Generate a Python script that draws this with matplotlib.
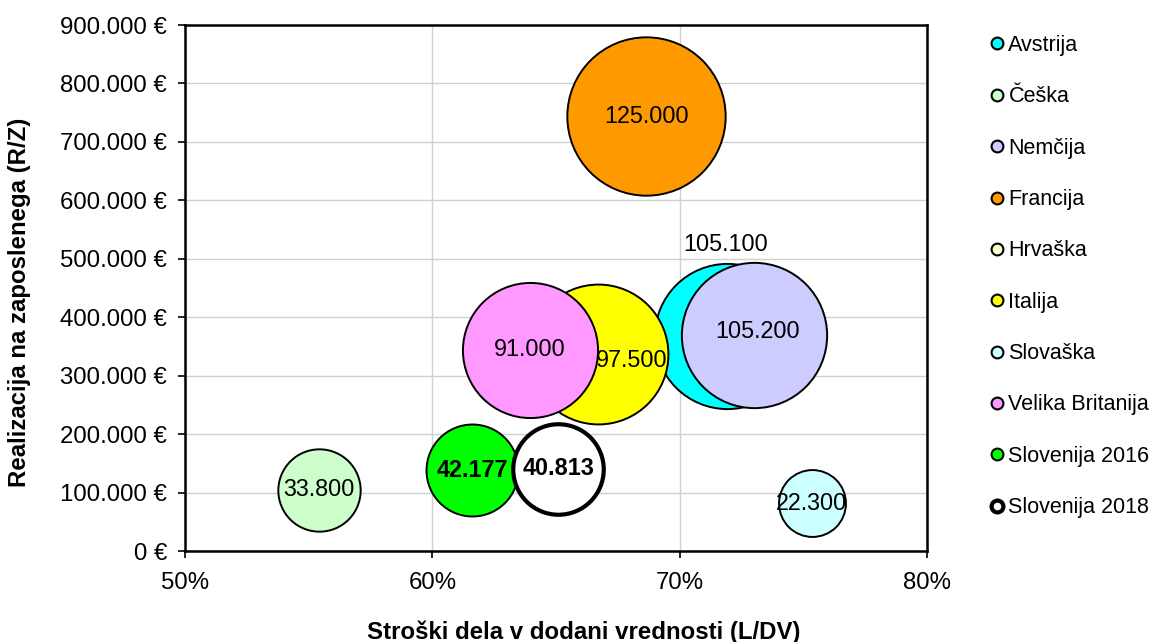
import numpy as np
import matplotlib.pyplot as plt
from matplotlib.lines import Line2D
from matplotlib.ticker import FuncFormatter, MultipleLocator

plt.rcParams['font.family'] = ['Liberation Sans', 'DejaVu Sans']

countries = ['Avstrija', 'Češka', 'Nemčija', 'Francija', 'Hrvaška', 'Italija',
             'Slovaška', 'Velika Britanija', 'Slovenija 2016', 'Slovenija 2018']
# stroški dela v dodani vrednosti (%)
labour_share = [71.9, 55.4, 73.0, 68.65, np.nan, 66.7, 75.35, 63.95, 61.6, 65.1]
# realizacija na zaposlenega (EUR)
revenue = [368000, 105000, 369000, 744000, np.nan, 337000, 82000, 344000, 138000, 141000]
# stevilo zaposlenih (velikost mehurcka)
employees = [105100, 33800, 105200, 125000, np.nan, 97500, 22300, 91000, 42177, 40813]
colors = ['#00FFFF', '#CCFFCC', '#CCCCFF', '#FF9900', '#FFFFCC', '#FFFF00',
          '#CCFFFF', '#FF99FF', '#00FF00', '#FFFFFF']

# posebni odmiki oznak (v tockah)
label_offsets = {'Avstrija': (-1, 66), 'Italija': (24, -5), 'Nemčija': (3, 3)}
bold_labels = ['Slovenija 2016', 'Slovenija 2018']

fig = plt.figure(figsize=(11.5, 6.42), dpi=100)
ax = fig.add_axes([185 / 1150, 1 - 551 / 642, 742 / 1150, 526 / 642])

bubble_scale = 0.104  # pt^2 na zaposlenega
for i, name in enumerate(countries):
    if np.isnan(employees[i]):
        continue
    lw = 3.0 if name == 'Slovenija 2018' else 1.4
    ax.scatter(labour_share[i], revenue[i], s=employees[i] * bubble_scale,
               color=colors[i], edgecolor='black', linewidth=lw, zorder=3 + i)
    txt = f"{employees[i]:,.0f}".replace(',', '.')
    dx, dy = label_offsets.get(name, (0, 0))
    ax.annotate(txt, (labour_share[i], revenue[i]), xytext=(dx, dy),
                textcoords='offset points', ha='center', va='center',
                fontsize=16.8, fontweight='bold' if name in bold_labels else 'normal',
                zorder=20)

ax.set_xlim(50, 80)
ax.set_ylim(0, 900000)
ax.xaxis.set_major_locator(MultipleLocator(10))
ax.yaxis.set_major_locator(MultipleLocator(100000))
ax.xaxis.set_major_formatter(FuncFormatter(lambda v, p: f"{v:.0f}%"))
ax.yaxis.set_major_formatter(FuncFormatter(lambda v, p: f"{v:,.0f} €".replace(',', '.')))
ax.grid(True, color='#D0D0D0', linewidth=1.0, zorder=0)
ax.set_axisbelow(True)
for sp in ax.spines.values():
    sp.set_linewidth(1.8)
ax.tick_params(direction='out', length=5, width=1.2, labelsize=17.3, pad=8)
ax.tick_params(axis='x', pad=10)

fig.text(584 / 1150, 1 - 632 / 642, 'Stroški dela v dodani vrednosti (L/DV)',
         ha='center', va='center', fontsize=17.3, fontweight='bold')
fig.text(20 / 1150, 1 - 302 / 642, 'Realizacija na zaposlenega (R/Z)',
         ha='center', va='center', rotation=90, fontsize=17.3, fontweight='bold')

handles = []
for i, name in enumerate(countries):
    mew = 3.0 if name == 'Slovenija 2018' else 1.5
    handles.append(Line2D([], [], marker='o', linestyle='', markersize=8.5,
                          markerfacecolor=colors[i], markeredgecolor='black',
                          markeredgewidth=mew))
fig.legend(handles, countries, loc='upper left', bbox_to_anchor=(988 / 1150, 1 - 35 / 642),
           frameon=False, fontsize=15.5, labelspacing=1.41, handletextpad=0.15,
           handlelength=0.8, borderpad=0, borderaxespad=0)

fig.savefig('out.png', dpi=100)
